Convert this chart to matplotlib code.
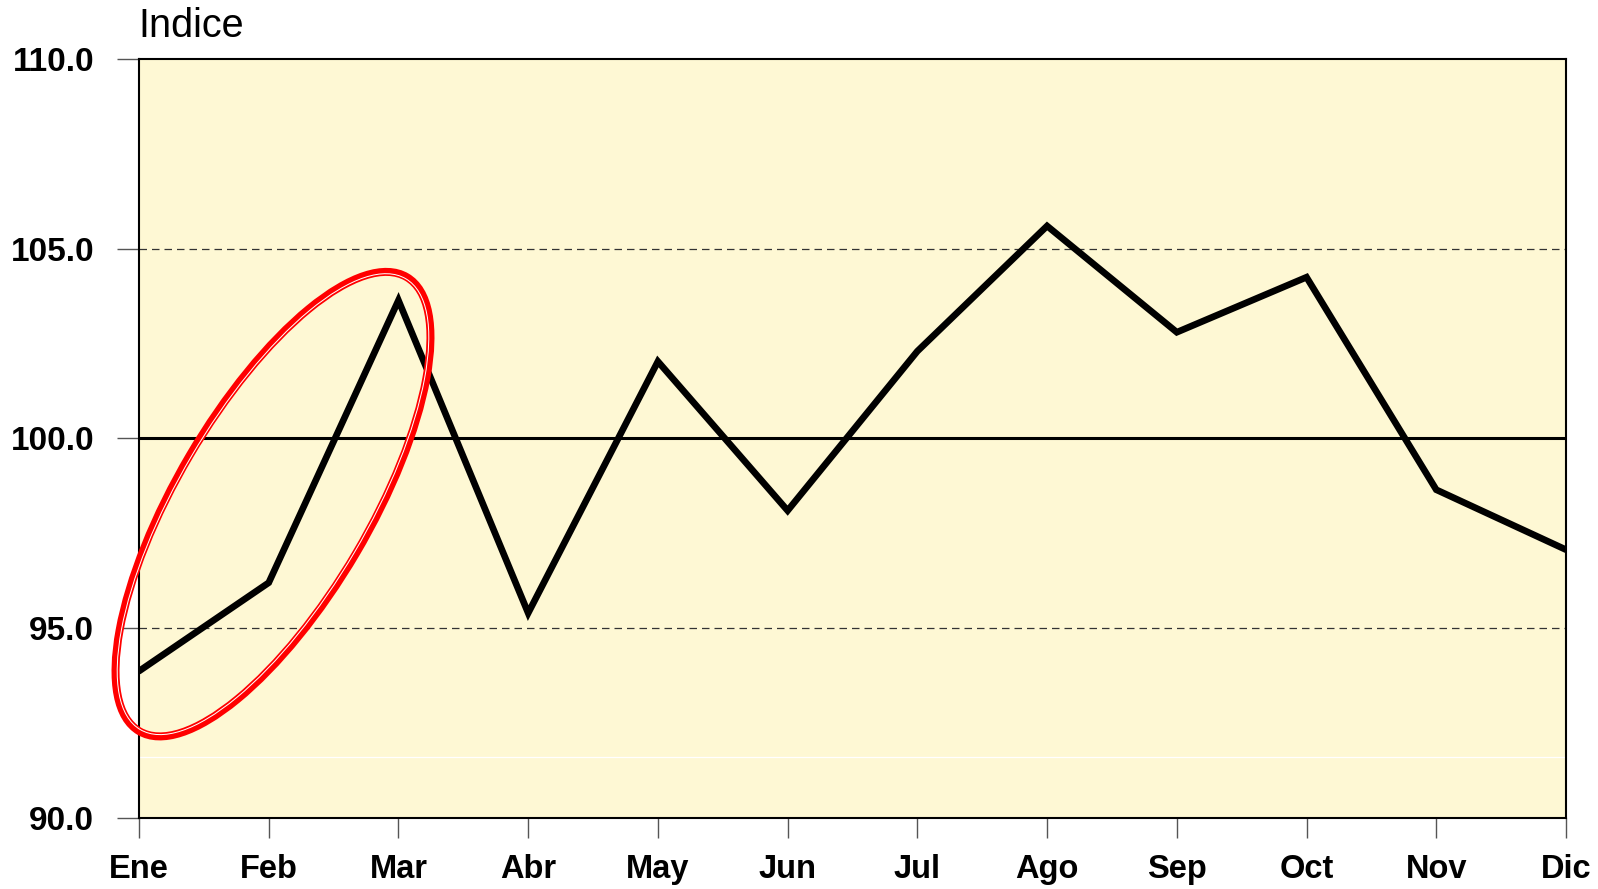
import numpy as np
import matplotlib.pyplot as plt
from matplotlib.patches import Ellipse
from matplotlib.transforms import IdentityTransform

# datos mensuales del indice
months = ['Ene', 'Feb', 'Mar', 'Abr', 'May', 'Jun', 'Jul', 'Ago', 'Sep', 'Oct', 'Nov', 'Dic']
indice = [93.87, 96.2, 103.64, 95.4, 102.03, 98.1, 102.3, 105.6, 102.8, 104.25, 98.65, 97.07]
y_ticks = [90.0, 95.0, 100.0, 105.0, 110.0]
base_value = 100.0
dashed_levels = [95.0, 105.0]

plt.rcParams['font.family'] = ['Liberation Sans', 'DejaVu Sans']

fig = plt.figure(figsize=(15.98, 8.89), dpi=100)
ax = fig.add_axes([0.08698, 0.07987, 0.89299, 0.85376])
ax.set_facecolor('#FEF8D4')

x = np.arange(len(months))

# lineas de referencia
for lv in dashed_levels:
    ax.axhline(lv, color='#333333', lw=0.9, dashes=(6, 4), zorder=1)
ax.axhline(91.6, color='white', lw=0.9, zorder=1)
ax.axhline(base_value, color='black', lw=2.2, zorder=2)

# serie principal
ax.plot(x, indice, color='black', lw=4.8, zorder=3,
        solid_capstyle='round', solid_joinstyle='miter')

ax.set_xlim(0, len(months) - 1)
ax.set_ylim(y_ticks[0], y_ticks[-1])
ax.set_xticks(x, months)
ax.set_yticks(y_ticks, [f'{v:.1f}' for v in y_ticks])
ax.tick_params(axis='y', direction='out', length=15.8, width=1, color='#555555',
               labelsize=24, pad=16.5)
ax.tick_params(axis='x', direction='out', length=14.5, width=1, color='#555555',
               labelsize=23.5, pad=11.5)
for lab in ax.get_xticklabels() + ax.get_yticklabels():
    lab.set_fontweight('bold')

for sp in ax.spines.values():
    sp.set_linewidth(1.5)
    sp.set_color('black')

fig.text(0.0864, 1 - 37 / 889, 'Indice', fontsize=28.5, va='baseline', ha='left')

# elipse roja de resalte (tamano en pixeles, centro anclado a datos)
ring_center = ax.transData.transform((1.033, 98.27))
ring = Ellipse(ring_center, 2 * 263.5, 2 * 96.5, angle=59.5, transform=IdentityTransform(),
               fill=False, ec='#FF0000', lw=8.0 * 0.72, clip_on=False, zorder=5)
ring_gap = Ellipse(ring_center, 2 * 261.6, 2 * 94.6, angle=59.5, transform=IdentityTransform(),
                   fill=False, ec='white', lw=1.0 * 0.72, clip_on=False, zorder=6)
fig.add_artist(ring)
fig.add_artist(ring_gap)

fig.savefig('out.png', dpi=100)
